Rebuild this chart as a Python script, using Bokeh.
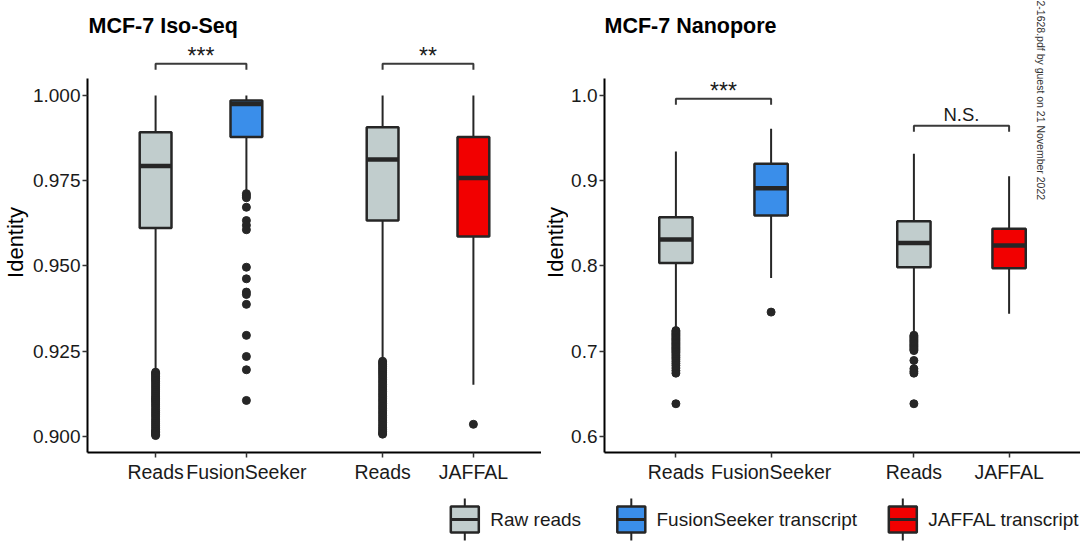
from bokeh.plotting import figure
from bokeh.models import Range1d, FixedTicker, NumeralTickFormatter, ColumnDataSource
from bokeh.layouts import column, row
from bokeh.embed import file_html
from bokeh.resources import INLINE
from bokeh.core.properties import value

# ---------------- data ----------------
box_labels = ["Reads", "FusionSeeker", "Reads", "JAFFAL"]
box_kind = ["Raw reads", "FusionSeeker transcript", "Raw reads", "JAFFAL transcript"]
pair_index = [1, 1, 2, 2]
dodge = [-0.2, 0.2, -0.2, 0.2]

# MCF-7 Iso-Seq
iso_lo = [0.9195, 0.9721, 0.9228, 0.9151]
iso_q1 = [0.9611, 0.9878, 0.9633, 0.9586]
iso_med = [0.9793, 0.9975, 0.9812, 0.9758]
iso_q3 = [0.9892, 0.9985, 0.9907, 0.9878]
iso_hi = [1.0000, 1.0000, 1.0000, 1.0000]
iso_out_reads1 = [0.9188, 0.9184, 0.9180, 0.9175, 0.9170, 0.9165, 0.9160, 0.9154, 0.9148,
                  0.9142, 0.9136, 0.9130, 0.9124, 0.9118, 0.9112, 0.9106, 0.9100, 0.9094,
                  0.9088, 0.9081, 0.9075, 0.9069, 0.9063, 0.9057, 0.9050, 0.9044, 0.9038,
                  0.9032, 0.9026, 0.9020, 0.9015, 0.9010, 0.9005, 0.9002]
iso_out_fs = [0.9712, 0.9706, 0.9700, 0.9672, 0.9633, 0.9619, 0.9606, 0.9496, 0.9462,
              0.9423, 0.9416, 0.9387, 0.9296, 0.9234, 0.9195, 0.9105]
iso_out_reads2 = [0.9220, 0.9215, 0.9210, 0.9204, 0.9198, 0.9192, 0.9186, 0.9180, 0.9173,
                  0.9166, 0.9159, 0.9152, 0.9145, 0.9138, 0.9131, 0.9124, 0.9117, 0.9110,
                  0.9103, 0.9096, 0.9089, 0.9082, 0.9075, 0.9068, 0.9061, 0.9054, 0.9047,
                  0.9040, 0.9033, 0.9026, 0.9020, 0.9014, 0.9009, 0.9006]
iso_out_jaffal = [0.9035]
iso_sig = ["***", "**"]
iso_sig_y = [1.0093, 1.0093]
iso_yticks = [0.900, 0.925, 0.950, 0.975, 1.000]

# MCF-7 Nanopore
nano_lo = [0.7265, 0.7856, 0.7215, 0.7438]
nano_q1 = [0.8032, 0.8592, 0.7985, 0.7973]
nano_med = [0.8310, 0.8912, 0.8267, 0.8239]
nano_q3 = [0.8572, 0.9198, 0.8525, 0.8435]
nano_hi = [0.9343, 0.9609, 0.9315, 0.9053]
nano_out_reads1 = [0.7240, 0.7225, 0.7210, 0.7195, 0.7180, 0.7165, 0.7150, 0.7135, 0.7120,
                   0.7105, 0.7090, 0.7075, 0.7060, 0.7045, 0.7030, 0.7015, 0.7000, 0.6985,
                   0.6965, 0.6945, 0.6925, 0.6905, 0.6880, 0.6855, 0.6830, 0.6800, 0.6770,
                   0.6740, 0.6381]
nano_out_fs = [0.7457]
nano_out_reads2 = [0.7185, 0.7170, 0.7155, 0.7140, 0.7125, 0.7110, 0.7095, 0.7080, 0.7065,
                   0.7050, 0.7035, 0.7020, 0.7005, 0.6889, 0.6792, 0.6762, 0.6740, 0.6381]
nano_out_jaffal = []
nano_sig = ["***", "N.S."]
nano_sig_y = [0.99613, 0.96443]
nano_yticks = [0.6, 0.7, 0.8, 0.9, 1.0]

legend_labels = ["Raw reads", "FusionSeeker transcript", "JAFFAL transcript"]
kind_colors = {"Raw reads": "#C1CDCD", "FusionSeeker transcript": "#3A8EEA",
               "JAFFAL transcript": "#F20000"}
titles = ["MCF-7 Iso-Seq", "MCF-7 Nanopore"]
y_title = "Identity"
watermark = "2-1628.pdf by guest on 21 November 2022"

# ---------------- style ----------------
FONT = "Liberation Sans"
DARK = "#262626"
TXT = "#1a1a1a"
BW = 0.14
ROW_H = 495
LEG_H = 54
XS = [pi + d for pi, d in zip(pair_index, dodge)]


def base_fig(width, height, x_range, y_range, **kw):
    p = figure(width=width, height=height, x_range=x_range, y_range=y_range,
               output_backend="svg", toolbar_location=None, **kw)
    p.outline_line_color = None
    p.xgrid.visible = False
    p.ygrid.visible = False
    p.background_fill_color = "white"
    p.border_fill_color = "white"
    return p


def make_panel(width, border_left, yr, ybound_top, ppu, yticks, yfmt,
               lo, q1, med, q3, hi, outs, sig, sig_y, tick_px, title, title_x, title_y):
    p = base_fig(width, ROW_H, Range1d(0.5, 2.5), Range1d(*yr), min_border_left=border_left,
                 min_border_right=0, min_border_top=0, min_border_bottom=43)
    colors = [kind_colors[k] for k in box_kind]
    src = ColumnDataSource(dict(x=XS, lo=lo, q1=q1, med=med, q3=q3, hi=hi, color=colors,
                                left=[x - BW / 2 for x in XS], right=[x + BW / 2 for x in XS]))
    p.segment(x0="x", y0="q3", x1="x", y1="hi", source=src, line_width=2, line_color=DARK)
    p.segment(x0="x", y0="lo", x1="x", y1="q1", source=src, line_width=2, line_color=DARK)
    p.vbar(x="x", width=BW, bottom="q1", top="q3", fill_color="color", line_color=DARK,
           line_width=2.5, source=src)
    p.segment(x0="left", y0="med", x1="right", y1="med", source=src, line_width=4.5,
              line_color=DARK)
    ox, oy = [], []
    for x, o in zip(XS, outs):
        ox += [x] * len(o)
        oy += list(o)
    p.scatter(ox, oy, size=8, color=DARK)

    # significance brackets and labels
    tick = tick_px / ppu
    bx, by, tx, ty, tsz = [], [], [], [], []
    for k, (lab, yb) in enumerate(zip(sig, sig_y)):
        x1, x2 = XS[2 * k], XS[2 * k + 1]
        bx.append([x1, x1, x2, x2])
        by.append([yb - tick, yb, yb, yb - tick])
        tx.append((x1 + x2) / 2)
        if "*" in lab:
            ty.append(yb + 8 / ppu)
            tsz.append("23px")
        else:
            ty.append(yb + 11 / ppu)
            tsz.append("18.5px")
    p.multi_line(bx, by, line_width=2, line_color="#3a3a3a")
    p.text(x="x", y="y", text="t", text_font_size="s",
           source=ColumnDataSource(dict(x=tx, y=ty, t=sig, s=tsz)),
           text_align="center", text_baseline="alphabetic",
           text_font=value(FONT), text_color=TXT)

    p.text(x=[title_x], y=[title_y + 6 / ppu], text=[title], text_align="left",
           text_baseline="alphabetic", text_font=value(FONT), text_font_size="21.5px",
           text_font_style="bold", text_color="black")

    p.xaxis.ticker = FixedTicker(ticks=XS)
    p.xaxis.major_label_overrides = {x: lab for x, lab in zip(XS, box_labels)}
    p.yaxis.ticker = FixedTicker(ticks=yticks)
    p.yaxis.formatter = NumeralTickFormatter(format=yfmt)
    p.yaxis.bounds = (yr[0], ybound_top)
    for ax in (p.xaxis, p.yaxis):
        ax.axis_line_width = 2
        ax.axis_line_color = "black"
        ax.major_tick_line_width = 1.5
        ax.major_tick_line_color = "#333333"
        ax.major_tick_out = 5
        ax.major_tick_in = 0
        ax.minor_tick_out = 0
        ax.minor_tick_in = 0
        ax.major_label_text_font = FONT
        ax.major_label_text_color = TXT
    p.xaxis.major_label_standoff = 3
    p.yaxis.major_label_standoff = 2
    p.xaxis.major_label_text_font_size = "19.5px"
    p.yaxis.major_label_text_font_size = "19px"
    return p


def ylabel_fig(width, xpos):
    f = base_fig(width, ROW_H, Range1d(0, width), Range1d(ROW_H, 0),
                 x_axis_location=None, y_axis_location=None, min_border=0)
    f.text(x=[xpos], y=[265], text=[y_title], angle=1.5707963, text_align="center",
           text_baseline="middle", text_font=value(FONT), text_font_size="22px",
           text_color="black")
    return f


# ---- left panel (Iso-Seq): 1.000 at y=95 px, 3407 px per unit ----
pL = make_panel(512, 55, (0.89522, 1.027884), 1.00499, 3407, iso_yticks, "0.000",
                iso_lo, iso_q1, iso_med, iso_q3, iso_hi,
                [iso_out_reads1, iso_out_fs, iso_out_reads2, iso_out_jaffal],
                iso_sig, iso_sig_y, 6, titles[0], 0.5045, 1.01858)

# ---- right panel (Nanopore): 1.0 at y=95 px, 851.75 px per unit ----
pR = make_panel(512, 35, (0.58086, 1.111535), 1.01996, 851.75, nano_yticks, "0.0",
                nano_lo, nano_q1, nano_med, nano_q3, nano_hi,
                [nano_out_reads1, nano_out_fs, nano_out_reads2, nano_out_jaffal],
                nano_sig, nano_sig_y, 6, titles[1], 0.5, 1.07432)
pR.text(x=[2.3323], y=[1.111535], text=[watermark], angle=-1.5707963, text_align="left",
        text_baseline="middle", text_font=value(FONT), text_font_size="10.5px",
        text_color="#333333")

idL = ylabel_fig(29, 15)
idR = ylabel_fig(27, 13.5)

# ---- legend strip ----
leg = base_fig(1080, LEG_H, Range1d(0, 1080), Range1d(LEG_H, 0), x_axis_location=None,
               y_axis_location=None, min_border=0)
key_x = [464.3, 630.8, 902.3]
text_x = [489.8, 656.0, 927.8]
leg_colors = [kind_colors[k] for k in legend_labels]
leg.segment(x0=key_x, y0=[3] * 3, x1=key_x, y1=[45] * 3, line_width=2, line_color=DARK)
leg.rect(x=key_x, y=[24] * 3, width=28, height=26, fill_color=leg_colors, line_color=DARK,
         line_width=2.5)
leg.segment(x0=[k - 14 for k in key_x], y0=[24] * 3, x1=[k + 14 for k in key_x],
            y1=[24] * 3, line_width=3, line_color=DARK)
leg.text(x=text_x, y=[24] * 3, text=legend_labels, text_baseline="middle", text_align="left",
         text_font=value(FONT), text_font_size="19px", text_color=TXT)

layout = column(row(idL, pL, idR, pR), leg)
open("out.html", "w").write(file_html(layout, INLINE))
